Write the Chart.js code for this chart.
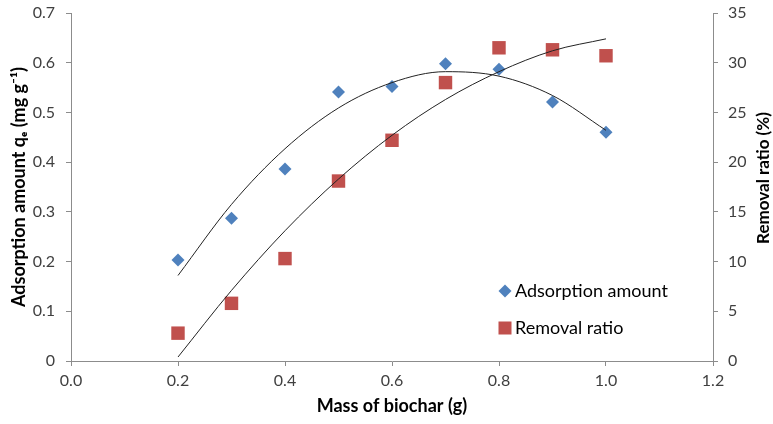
<!DOCTYPE html>
<html><head><meta charset="utf-8">
<script src="https://cdn.jsdelivr.net/npm/chart.js@4.4.0/dist/chart.umd.min.js"></script>
<style>html,body{margin:0;padding:0;background:#fff}#wrap{width:773px;height:424px;position:relative}</style>
</head><body><div id="wrap"><canvas id="c" width="773" height="424"></canvas></div>
<script>
const massOfBiochar = [0.2, 0.3, 0.4, 0.5, 0.6, 0.7, 0.8, 0.9, 1.0];
const adsorptionAmount = [0.203, 0.287, 0.386, 0.541, 0.552, 0.598, 0.587, 0.521, 0.460];
const removalRatio = [2.8, 5.8, 10.3, 18.1, 22.2, 28.0, 31.5, 31.3, 30.7];
const adsorptionTrend = [0.172, 0.315, 0.427, 0.509, 0.560, 0.582, 0.573, 0.534, 0.464];
const removalTrend = [0.4, 7.1, 13.1, 18.3, 22.7, 26.3, 29.1, 31.2, 32.4];
const seriesNames = ['Adsorption amount', 'Removal ratio'];
const xTitle = 'Mass of biochar (g)';
const yLeftTitle = 'Adsorption amount q\u2091 (mg g\u207B\u00B9)';
const yRightTitle = 'Removal ratio (%)';

const BLUE = '#4F81BD', RED = '#C0504D', AXIS = '#8C8C8C', TICK = '#404040';
const FONT = 'Lato, "Open Sans", sans-serif';

const pts = (xs, ys) => xs.map((x, i) => ({x, y: ys[i]}));
const noPad = s => { s.paddingTop = 0; s.paddingBottom = 0; s.paddingLeft = 0; s.paddingRight = 0; };

const customPlugin = {
  id: 'custom',
  afterDraw(chart) {
    const ctx = chart.ctx;
    ctx.save();
    // right axis title, reading bottom to top
    ctx.font = 'bold 17px ' + FONT;
    ctx.fillStyle = '#000';
    ctx.textAlign = 'center';
    ctx.textBaseline = 'middle';
    ctx.translate(764, 178);
    ctx.rotate(-Math.PI / 2);
    ctx.fillText(yRightTitle, 0, 0);
    ctx.restore();
    // legend inside plot
    ctx.save();
    ctx.font = '18px ' + FONT;
    ctx.textAlign = 'left';
    ctx.textBaseline = 'middle';
    const lx = 505, ly1 = 291, ly2 = 328;
    ctx.fillStyle = BLUE;
    ctx.beginPath();
    ctx.moveTo(lx, ly1 - 6.5); ctx.lineTo(lx + 6.5, ly1); ctx.lineTo(lx, ly1 + 6.5); ctx.lineTo(lx - 6.5, ly1); ctx.closePath();
    ctx.fill();
    ctx.fillStyle = RED;
    ctx.fillRect(lx - 6.5, ly2 - 6.5, 13, 13);
    ctx.fillStyle = '#000';
    ctx.fillText(chart.data.datasets[0].label, 515, ly1);
    ctx.fillText(chart.data.datasets[1].label, 515, ly2);
    ctx.restore();
  }
};

new Chart(document.getElementById('c'), {
  type: 'scatter',
  data: {
    datasets: [
      {label: seriesNames[0], data: pts(massOfBiochar, adsorptionAmount), yAxisID: 'y',
       pointStyle: 'rectRot', pointRadius: 6.5, pointHoverRadius: 6.5, backgroundColor: BLUE, borderColor: BLUE, borderWidth: 0, order: 2},
      {label: seriesNames[1], data: pts(massOfBiochar, removalRatio), yAxisID: 'y2',
       pointStyle: 'rect', pointRadius: 9.5, pointHoverRadius: 9.5, backgroundColor: RED, borderColor: RED, borderWidth: 0, order: 2},
      {label: 'trend1', data: pts(massOfBiochar, adsorptionTrend), yAxisID: 'y', showLine: true,
       pointRadius: 0, borderColor: '#222', borderWidth: 1, tension: 0.4, cubicInterpolationMode: 'monotone', order: 1},
      {label: 'trend2', data: pts(massOfBiochar, removalTrend), yAxisID: 'y2', showLine: true,
       pointRadius: 0, borderColor: '#222', borderWidth: 1, tension: 0.4, cubicInterpolationMode: 'monotone', order: 1}
    ]
  },
  options: {
    responsive: false,
    animation: false,
    devicePixelRatio: 1,
    layout: {padding: {top: 13, left: 0, right: 0, bottom: 0}},
    plugins: {legend: {display: false}, tooltip: {enabled: false}},
    scales: {
      x: {
        type: 'linear', min: 0, max: 1.2,
        afterFit: s => { s.height = 63; noPad(s); },
        ticks: {stepSize: 0.2, callback: v => Number(v).toFixed(1), color: TICK, font: {family: FONT, size: 16}, padding: 5},
        grid: {drawOnChartArea: false, tickLength: 5, color: AXIS},
        border: {color: AXIS},
        title: {display: true, text: xTitle, color: '#000', font: {family: FONT, size: 18, weight: 'bold'}, padding: {top: 0, bottom: 7}}
      },
      y: {
        type: 'linear', position: 'left', min: 0, max: 0.7,
        afterFit: s => { s.width = 71; noPad(s); },
        ticks: {stepSize: 0.1, callback: v => (Math.abs(v) < 1e-9 ? '0' : Number(v).toFixed(1)), color: TICK, font: {family: FONT, size: 16}, padding: 11},
        grid: {drawOnChartArea: false, tickLength: 5, color: AXIS},
        border: {color: AXIS},
        title: {display: true, text: yLeftTitle, color: '#000', font: {family: FONT, size: 18, weight: 'bold'}, padding: {top: 8, bottom: 0}}
      },
      y2: {
        type: 'linear', position: 'right', min: 0, max: 35,
        afterFit: s => { s.width = 60; noPad(s); },
        ticks: {stepSize: 5, color: TICK, font: {family: FONT, size: 16}, padding: 10},
        grid: {drawOnChartArea: false, tickLength: 5, color: AXIS},
        border: {color: AXIS}
      }
    }
  },
  plugins: [customPlugin]
});
</script></body></html>
